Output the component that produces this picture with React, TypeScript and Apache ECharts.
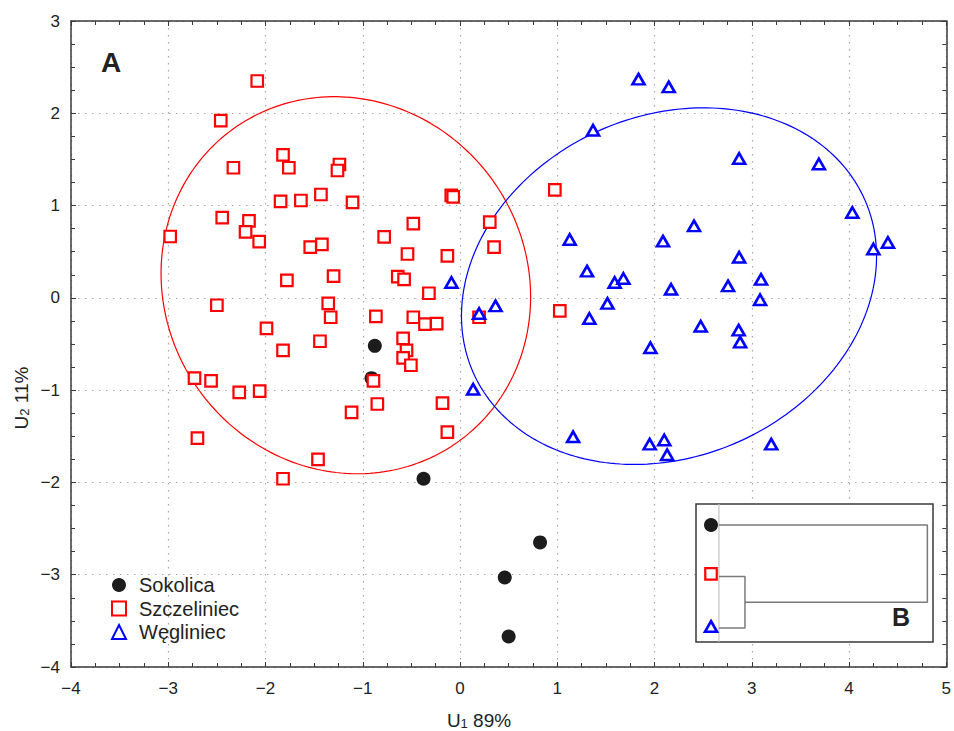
import React, { useEffect, useRef } from "react";
import * as echarts from "echarts";

// Canonical scores of the three populations (U1, U2)
const sokolica: number[][] = [
  [-0.876, -0.52],
  [-0.91, -0.87],
  [-0.375, -1.96],
  [0.823, -2.65],
  [0.46, -3.03],
  [0.5, -3.67],
];

const szczeliniec: number[][] = [
  [-2.085, 2.35], [-2.46, 1.92], [-2.33, 1.41], [-1.82, 1.55], [-1.76, 1.41],
  [-1.24, 1.445], [-1.26, 1.38], [-1.845, 1.045], [-1.636, 1.055], [-1.43, 1.12],
  [-1.105, 1.035], [-2.445, 0.87], [-2.17, 0.835], [-2.205, 0.715], [-2.065, 0.61],
  [-2.98, 0.665], [-1.54, 0.55], [-1.42, 0.58], [-0.09, 1.11], [-0.07, 1.095],
  [-0.48, 0.805], [-0.78, 0.66], [0.306, 0.82], [0.35, 0.55], [0.975, 1.17],
  [-0.54, 0.475], [-0.13, 0.455], [-1.78, 0.19], [-1.3, 0.235], [-2.5, -0.08],
  [-1.355, -0.06], [-1.33, -0.21], [-1.99, -0.33], [-1.82, -0.57], [-1.44, -0.47],
  [-0.865, -0.2], [-0.64, 0.23], [-0.575, 0.2], [-0.32, 0.05], [-0.48, -0.21],
  [-0.36, -0.285], [-0.24, -0.28], [-0.585, -0.44], [-0.55, -0.57], [-0.585, -0.65],
  [-0.505, -0.73], [-0.89, -0.9], [-0.85, -1.15], [-1.115, -1.24], [-0.18, -1.14],
  [-0.13, -1.455], [-1.46, -1.75], [-2.73, -0.87], [-2.56, -0.9], [-2.27, -1.025],
  [-2.06, -1.01], [-2.7, -1.52], [-1.82, -1.96], [0.196, -0.21], [1.026, -0.14],
];

const wegliniec: number[][] = [
  [1.835, 2.37], [2.146, 2.286], [1.368, 1.817], [2.87, 1.51], [3.69, 1.45],
  [4.034, 0.925], [4.25, 0.53], [4.4, 0.6], [2.087, 0.615], [2.406, 0.78],
  [1.128, 0.633], [2.87, 0.44], [3.095, 0.2], [3.085, -0.02], [2.756, 0.13],
  [2.17, 0.094], [1.306, 0.29], [1.59, 0.167], [1.68, 0.21], [1.516, -0.06],
  [1.33, -0.223], [2.475, -0.307], [2.865, -0.35], [2.88, -0.48], [1.958, -0.54],
  [1.95, -1.585], [2.1, -1.54], [2.13, -1.7], [3.2, -1.585], [1.163, -1.506],
  [-0.088, 0.167], [0.196, -0.17], [0.365, -0.087], [0.135, -0.99],
];

// Confidence ellipses: [centre U1, centre U2, half-width, half-height, correlation]
const szczeliniecEllipse: number[] = [-1.174, 0.137, 1.9, 2.043, -0.062];
const wegliniecEllipse: number[] = [2.149, 0.127, 2.134, 1.932, 0.167];

const xRange: number[] = [-4, 5];
const yRange: number[] = [-4, 3];

// Dendrogram (panel B): leaf rows and linkage distances (relative)
const leafRows: number[] = [3, 2, 1]; // Sokolica, Szczeliniec, Węgliniec
const linkSzczWeg = 0.125;
const linkAll = 1;

const FONT = "'Liberation Sans', Arial, Helvetica, sans-serif";
const RED = "#ff0000";
const BLUE = "#0000ff";
const BLACK = "#1c1c1c";
const FRAME = "#3a3a3a";

const minus = (v: number) => String(v).replace("-", "\u2212");

function ellipseSeries(name: string, params: number[], color: string) {
  return {
    type: "custom",
    name,
    xAxisIndex: 0,
    yAxisIndex: 0,
    silent: true,
    z: 1,
    itemStyle: { color },
    data: [params],
    renderItem: (_p: any, api: any) => {
      const cx = api.value(0);
      const cy = api.value(1);
      const hx = api.value(2);
      const hy = api.value(3);
      const rho = api.value(4);
      const k = Math.sqrt(1 - rho * rho);
      const pts: number[][] = [];
      for (let i = 0; i <= 240; i++) {
        const t = (i / 240) * Math.PI * 2;
        pts.push(
          api.coord([
            cx + hx * Math.cos(t),
            cy + hy * (rho * Math.cos(t) + k * Math.sin(t)),
          ])
        );
      }
      return {
        type: "polyline",
        shape: { points: pts },
        style: { fill: "none", stroke: color, lineWidth: 1.2 },
      };
    },
  };
}

export default function App() {
  const ref = useRef<HTMLDivElement>(null);

  useEffect(() => {
    if (!ref.current) return;
    const chart = echarts.init(ref.current, undefined, { renderer: "svg" });

    const mainAxisCommon = {
      min: 0,
      max: 0,
      interval: 1,
      axisLine: { show: true, onZero: false, lineStyle: { color: FRAME, width: 1.5 } },
      axisTick: { show: true, inside: true, length: 5, lineStyle: { color: FRAME, width: 1 } },
      minorTick: { show: true, splitNumber: 4, length: 4, lineStyle: { color: FRAME, width: 1 } },
      splitLine: { show: false },
      axisLabel: { show: false },
    };

    const squareStyle = { color: "#ffffff", borderColor: RED, borderWidth: 2.2, opacity: 1 };
    const triStyle = { color: "#ffffff", borderColor: BLUE, borderWidth: 2.6, opacity: 1 };
    const dotStyle = { color: BLACK, opacity: 1 };

    const insetX = [-0.11, 1.027];
    const insetY = [0.727, 3.409];
    const leafX = -0.038;

    chart.setOption({
      animation: false,
      backgroundColor: "#ffffff",
      textStyle: { fontFamily: FONT },
      grid: [
        { left: 71, top: 21, right: 7, bottom: 64, show: false },
        {
          left: 696,
          top: 504,
          width: 237,
          height: 138,
          show: true,
          backgroundColor: "#ffffff",
          borderColor: FRAME,
          borderWidth: 1.5,
          z: 5,
        },
      ],
      xAxis: [
        {
          ...mainAxisCommon,
          gridIndex: 0,
          position: "bottom",
          min: xRange[0],
          max: xRange[1],
          splitLine: { show: true, lineStyle: { color: "#a8a8a8", width: 1.2, type: [1.5, 5.5] } },
          axisLabel: {
            show: true,
            margin: 13,
            fontSize: 17,
            color: "#222",
            fontFamily: FONT,
            formatter: minus,
          },
        },
        {
          ...mainAxisCommon,
          gridIndex: 0,
          position: "top",
          min: xRange[0],
          max: xRange[1],
        },
        {
          type: "value",
          gridIndex: 1,
          min: insetX[0],
          max: insetX[1],
          show: false,
        },
      ],
      yAxis: [
        {
          ...mainAxisCommon,
          gridIndex: 0,
          position: "left",
          min: yRange[0],
          max: yRange[1],
          splitLine: { show: true, lineStyle: { color: "#a8a8a8", width: 1.2, type: [1.5, 5.5] } },
          axisLabel: {
            show: true,
            margin: 11,
            fontSize: 17,
            color: "#222",
            fontFamily: FONT,
            formatter: minus,
          },
        },
        {
          ...mainAxisCommon,
          gridIndex: 0,
          position: "right",
          min: yRange[0],
          max: yRange[1],
        },
        {
          type: "value",
          gridIndex: 1,
          min: insetY[0],
          max: insetY[1],
          show: false,
        },
      ],
      legend: {
        orient: "vertical",
        left: 106,
        top: 570,
        itemWidth: 14,
        itemHeight: 14,
        itemGap: 3.5,
        data: ["Sokolica", "Szczeliniec", "Węgliniec"],
        textStyle: {
          fontSize: 20,
          color: "#222",
          fontFamily: FONT,
          padding: [0, 0, 0, 8],
        },
      },
      series: [
        ellipseSeries("ellipse-szczeliniec", szczeliniecEllipse, RED),
        ellipseSeries("ellipse-wegliniec", wegliniecEllipse, BLUE),
        {
          type: "scatter",
          name: "Sokolica",
          symbol: "circle",
          symbolSize: 14,
          itemStyle: dotStyle,
          data: sokolica,
          z: 2,
        },
        {
          type: "scatter",
          name: "Szczeliniec",
          symbol: "rect",
          symbolSize: 11.5,
          itemStyle: squareStyle,
          data: szczeliniec,
          z: 3,
        },
        {
          type: "scatter",
          name: "Węgliniec",
          symbol: "triangle",
          symbolSize: [12, 10.5],
          itemStyle: triStyle,
          data: wegliniec,
          z: 4,
        },
        // Panel B: dendrogram
        {
          type: "line",
          name: "leaf-line",
          xAxisIndex: 2,
          yAxisIndex: 2,
          silent: true,
          symbol: "none",
          z: 6,
          lineStyle: { color: "#c4c4c4", width: 1.2 },
          data: [
            [0, insetY[0]],
            [0, insetY[1]],
          ],
        },
        {
          type: "line",
          name: "link-all",
          xAxisIndex: 2,
          yAxisIndex: 2,
          silent: true,
          symbol: "none",
          z: 7,
          lineStyle: { color: "#7a7a7a", width: 1.5 },
          data: [
            [0, leafRows[0]],
            [linkAll, leafRows[0]],
            [linkAll, (leafRows[1] + leafRows[2]) / 2],
            [linkSzczWeg, (leafRows[1] + leafRows[2]) / 2],
          ],
        },
        {
          type: "line",
          name: "link-szcz-weg",
          xAxisIndex: 2,
          yAxisIndex: 2,
          silent: true,
          symbol: "none",
          z: 7,
          lineStyle: { color: "#7a7a7a", width: 1.5 },
          data: [
            [0, leafRows[1]],
            [linkSzczWeg, leafRows[1]],
            [linkSzczWeg, leafRows[2]],
            [0, leafRows[2]],
          ],
        },
        {
          type: "scatter",
          name: "leaf-sokolica",
          xAxisIndex: 2,
          yAxisIndex: 2,
          silent: true,
          z: 8,
          symbol: "circle",
          symbolSize: 14,
          itemStyle: dotStyle,
          data: [[leafX, leafRows[0]]],
        },
        {
          type: "scatter",
          name: "leaf-szczeliniec",
          xAxisIndex: 2,
          yAxisIndex: 2,
          silent: true,
          z: 8,
          symbol: "rect",
          symbolSize: 11.5,
          itemStyle: squareStyle,
          data: [[leafX, leafRows[1] + 0.05]],
        },
        {
          type: "scatter",
          name: "leaf-wegliniec",
          xAxisIndex: 2,
          yAxisIndex: 2,
          silent: true,
          z: 8,
          symbol: "triangle",
          symbolSize: [12, 10.5],
          itemStyle: triStyle,
          data: [[leafX, leafRows[2] + 0.03]],
        },
      ],
      graphic: [
        {
          type: "text",
          x: 101,
          y: 62,
          z: 20,
          style: {
            text: "A",
            font: `bold 28px ${FONT}`,
            fill: "#222",
            textAlign: "left",
            textVerticalAlign: "middle",
          },
        },
        {
          type: "text",
          x: 892,
          y: 617,
          z: 20,
          style: {
            text: "B",
            font: `bold 25px ${FONT}`,
            fill: "#222",
            textAlign: "left",
            textVerticalAlign: "middle",
          },
        },
        {
          type: "text",
          x: 479,
          y: 720,
          z: 20,
          style: {
            text: "{n|U}{s|1}{n| 89%}",
            textAlign: "center",
            textVerticalAlign: "middle",
            fill: "#222",
            rich: {
              n: { fontSize: 19, lineHeight: 20, fontFamily: FONT, fill: "#222" },
              s: { fontSize: 13, lineHeight: 9, verticalAlign: "bottom", fontFamily: FONT, fill: "#222" },
            },
          },
        },
        {
          type: "text",
          x: 21,
          y: 398,
          z: 20,
          rotation: Math.PI / 2,
          style: {
            text: "{n|U}{s|2}{n| 11%}",
            textAlign: "center",
            textVerticalAlign: "middle",
            fill: "#222",
            rich: {
              n: { fontSize: 19, lineHeight: 20, fontFamily: FONT, fill: "#222" },
              s: { fontSize: 13, lineHeight: 9, verticalAlign: "bottom", fontFamily: FONT, fill: "#222" },
            },
          },
        },
      ],
    });

    return () => chart.dispose();
  }, []);

  return <div ref={ref} style={{ width: 954, height: 731, position: "absolute", left: 0, top: 0 }} />;
}
